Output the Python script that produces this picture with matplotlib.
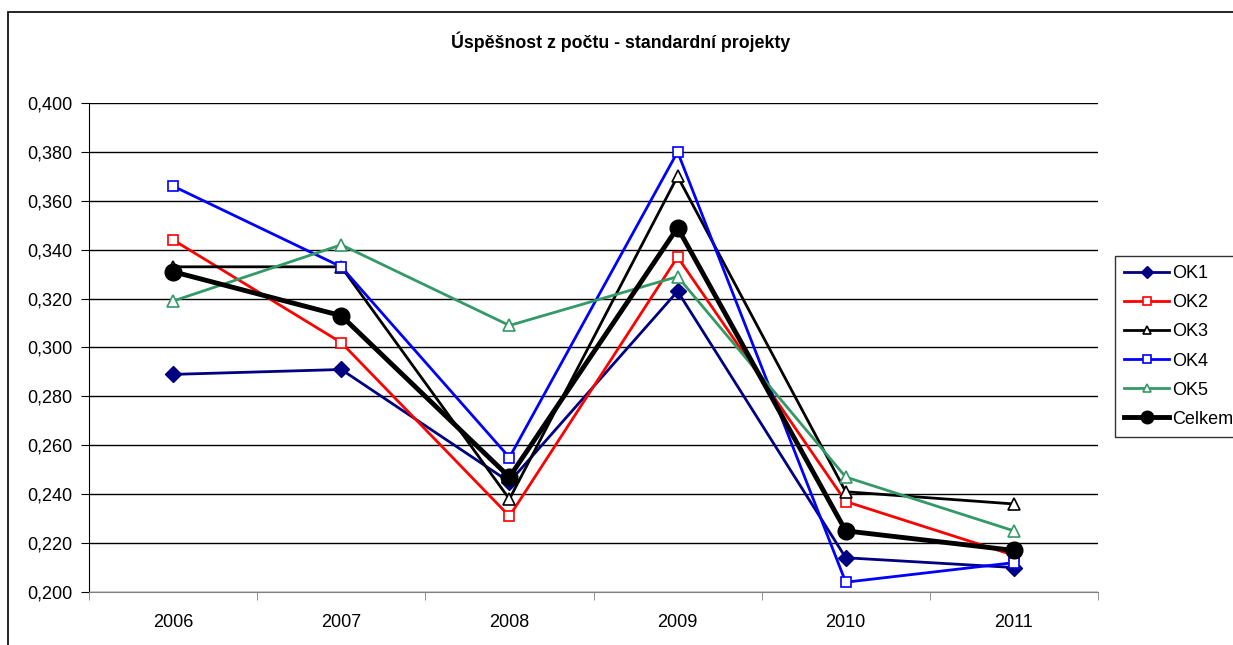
import matplotlib
matplotlib.use('Agg')
import matplotlib.pyplot as plt
from matplotlib.patches import Rectangle
from matplotlib.ticker import FuncFormatter, FixedLocator

plt.rcParams['font.family'] = ['Liberation Sans', 'DejaVu Sans']

years = ['2006', '2007', '2008', '2009', '2010', '2011']
ok1 = [0.289, 0.291, 0.245, 0.323, 0.214, 0.210]
ok2 = [0.344, 0.302, 0.231, 0.337, 0.237, 0.215]
ok3 = [0.333, 0.333, 0.238, 0.370, 0.241, 0.236]
ok4 = [0.366, 0.333, 0.255, 0.380, 0.204, 0.212]
ok5 = [0.319, 0.342, 0.309, 0.329, 0.247, 0.225]
celkem = [0.331, 0.313, 0.247, 0.349, 0.225, 0.217]

fig = plt.figure(figsize=(12.33, 6.45), dpi=100)
ax = fig.add_axes([0.0722, 0.0822, 0.8183, 0.7581])

# outer chart border
fig.patches.append(Rectangle((8 / 1233, -0.1), 1.2, 1.1 - 12 / 645, transform=fig.transFigure,
                             fill=False, edgecolor='black', linewidth=1.2))

x = list(range(len(years)))
ax.plot(x, ok1, color='#000080', lw=2, marker='D', ms=8, mfc='#000080', mec='#000080', label='OK1')
ax.plot(x, ok2, color='#ff0000', lw=2, marker='s', ms=7, mfc='white', mec='#ff0000', mew=1.2, label='OK2')
ax.plot(x, ok3, color='black', lw=2, marker='^', ms=8, mfc='white', mec='black', mew=1.2, label='OK3')
ax.plot(x, ok4, color='#0000ff', lw=2, marker='s', ms=7, mfc='white', mec='#0000ff', mew=1.2, label='OK4')
ax.plot(x, ok5, color='#339966', lw=2, marker='^', ms=8, mfc='white', mec='#339966', mew=1.2, label='OK5')
ax.plot(x, celkem, color='black', lw=3.5, marker='o', ms=12, mfc='black', mec='black', label='Celkem')

ax.set_xlim(-0.5, len(years) - 0.5)
ax.set_ylim(0.2, 0.4)
ax.set_yticks([0.2 + 0.02 * i for i in range(11)])
ax.yaxis.set_major_formatter(FuncFormatter(lambda v, p: f'{v:.3f}'.replace('.', ',')))
ax.set_xticks(x)
ax.set_xticklabels(years)
ax.xaxis.set_minor_locator(FixedLocator([i - 0.5 for i in range(len(years) + 1)]))
ax.tick_params(axis='x', which='major', length=0, pad=16, labelsize=13)
ax.tick_params(axis='x', which='minor', length=6, direction='out', color='#808080')
ax.tick_params(axis='y', length=6, direction='out', labelsize=13, pad=6)
ax.grid(axis='y', color='black', lw=1)
ax.set_axisbelow(True)
for s in ['top', 'right']:
    ax.spines[s].set_visible(False)
ax.spines['left'].set_color('black')
ax.spines['bottom'].set_color('#808080')

fig.text(0.503, 0.935, 'Úspěšnost z počtu - standardní projekty', ha='center', va='center',
         fontsize=12.8, fontweight='bold')

leg = ax.legend(loc='center left', bbox_to_anchor=(1.0168, 0.502), fontsize=13, frameon=True,
                fancybox=False, edgecolor='black', handlelength=2.5, borderpad=0.5,
                labelspacing=0.67, handletextpad=0.15, borderaxespad=0, markerscale=0.75)
leg.get_frame().set_linewidth(1)

fig.savefig('out.png', dpi=100)
